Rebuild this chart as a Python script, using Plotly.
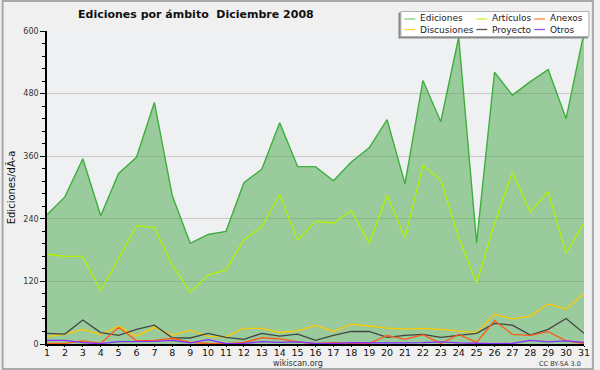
import plotly.graph_objects as go

dias = list(range(1, 32))

ediciones = [248, 282, 355, 246, 327, 358, 463, 284, 193, 210, 216, 309, 335, 424, 340,
             340, 313, 349, 376, 430, 307, 505, 426, 588, 194, 521, 477, 503, 526, 432, 597]
articulos = [172, 168, 168, 102, 164, 227, 223, 151, 99, 132, 142, 200, 225, 286, 199,
             235, 232, 256, 193, 285, 204, 342, 315, 204, 117, 231, 329, 253, 292, 174, 232]
anexos = [1, 1, 6, 1, 32, 6, 7, 11, 3, 1, 0.6, 3, 12, 10, 4,
          0.6, 2.5, 1, 1, 16.6, 9, 18, 1, 18.5, 3, 44.7, 18.5, 16.6, 23.6, 6, 1]
discusiones = [14, 19, 28, 18, 34, 15, 32, 17, 26, 14.7, 14, 30, 30, 22, 25,
               35.7, 24, 38, 34.5, 30.6, 28.7, 30, 28, 25, 21.7, 57, 48, 53.6, 76.6, 67, 97]
proyecto = [20.4, 19, 46, 22, 16.6, 28, 36, 12, 11.5, 20.4, 12.8, 9, 20.4, 15, 19,
            7, 16.6, 24, 24, 12.8, 16.6, 18.5, 12.8, 17, 20.4, 39.6, 36, 17, 28, 49, 20.4]
otros = [7, 7, 2.5, 0.6, 4.5, 4.5, 5, 7, 2, 8.3, 0.6, 1, 4.5, 3, 4,
         1, 1, 2.5, 2, 2.5, 2, 2.5, 4, 2, 0.6, 0.6, 1, 7, 4, 6, 3]

y_ticks = [0, 120, 240, 360, 480, 600]

W, H = 600, 370
ML, MR, MT, MB = 46, 10, 31, 26
PW, PH = W - ML - MR, H - MT - MB

def px(x):
    return (x - ML) / PW

def py(y):
    return (H - MB - y) / PH

fig = go.Figure()

fig.add_trace(go.Scatter(x=dias, y=ediciones, name="Ediciones", mode="lines",
                         line=dict(color="#3daf3d", width=1.4),
                         fill="tozeroy", fillcolor="rgba(70,165,70,0.5)"))

lines = [
    ("Artículos", articulos, "#b4f000"),
    ("Discusiones", discusiones, "#ffc800"),
    ("Proyecto", proyecto, "#444444"),
    ("Anexos", anexos, "#ff5a14"),
    ("Otros", otros, "#8a2cff"),
]
for name, vals, col in lines:
    fig.add_trace(go.Scatter(x=dias, y=vals, name=name, mode="lines",
                             line=dict(color=col, width=1.3)))

# manual legend (3 columns x 2 rows)
legend_cols = [
    [("Ediciones", "#80d080"), ("Discusiones", "#ffd040")],
    [("Artículos", "#c8f040"), ("Proyecto", "#555555")],
    [("Anexos", "#ff8040"), ("Otros", "#a050ff")],
]
col_x = [408, 481, 539.5]
row_y = [19, 29.5]

shapes = []
annotations = []

# outer border
shapes.append(dict(type="rect", xref="paper", yref="paper",
                   x0=px(1), x1=px(W - 1), y0=py(H - 1), y1=py(1),
                   line=dict(color="#a8a8a8", width=2), fillcolor="rgba(0,0,0,0)",
                   layer="above"))
# legend box with shadow
shapes.append(dict(type="rect", xref="paper", yref="paper",
                   x0=px(402), x1=px(594), y0=py(38.5), y1=py(12.5),
                   line=dict(width=0), fillcolor="#8a8a8a", layer="above"))
shapes.append(dict(type="rect", xref="paper", yref="paper",
                   x0=px(404.5), x1=px(595), y0=py(36.5), y1=py(11.5),
                   line=dict(color="#b0b0b0", width=1), fillcolor="#ffffff", layer="above"))

for c, col_items in enumerate(legend_cols):
    x0 = col_x[c]
    for r, (name, col) in enumerate(col_items):
        y = row_y[r]
        shapes.append(dict(type="line", xref="paper", yref="paper",
                           x0=px(x0), x1=px(x0 + 11), y0=py(y), y1=py(y),
                           line=dict(color=col, width=1.3), layer="above"))
    annotations.append(dict(text="<br>".join(n for n, _ in col_items),
                            xref="paper", yref="paper", align="left",
                            x=px(x0 + 15), y=py((row_y[0] + row_y[1]) / 2),
                            xanchor="left", yanchor="middle", showarrow=False, borderpad=0,
                            font=dict(family="DejaVu Sans", size=9, color="#222222")))

annotations.append(dict(text="Ediciones por ámbito\u00a0 Diciembre 2008", xref="paper", yref="paper",
                        x=px(197), y=py(14), xanchor="center", yanchor="middle", showarrow=False,
                        font=dict(family="DejaVu Sans", size=11, color="#111111", weight="bold")))
annotations.append(dict(text="wikiscan.org", xref="paper", yref="paper",
                        x=px(300), y=py(363.5), xanchor="center", yanchor="middle", showarrow=False,
                        font=dict(family="DejaVu Sans", size=8, color="#333333")))
annotations.append(dict(text="CC BY-SA 3.0", xref="paper", yref="paper",
                        x=px(589), y=py(363.5), xanchor="right", yanchor="middle", showarrow=False,
                        font=dict(family="DejaVu Sans", size=6.5, color="#333333")))

fig.update_layout(
    width=W, height=H,
    margin=dict(l=ML, r=MR, t=MT, b=MB, pad=0),
    paper_bgcolor="#f0f0f0",
    plot_bgcolor="#eff0f2",
    showlegend=False,
    shapes=shapes,
    annotations=annotations,
)

fig.update_xaxes(range=[1, 31], tickmode="array", tickvals=dias,
                 ticktext=[str(d) for d in dias],
                 showgrid=False, zeroline=False,
                 showline=True, linecolor="black", linewidth=1.5,
                 ticks="outside", ticklen=1, tickcolor="black", ticklabelstandoff=-2,
                 tickfont=dict(family="DejaVu Sans", size=9.5, color="#111111"))
fig.update_yaxes(range=[0, 600], tickmode="array", tickvals=y_ticks,
                 ticktext=[str(v) for v in y_ticks],
                 showgrid=True, gridcolor="#c9c9c9", gridwidth=1, zeroline=False,
                 showline=True, linecolor="black", linewidth=1.5,
                 ticks="outside", ticklen=5, tickcolor="black",
                 tickfont=dict(family="DejaVu Sans", size=8, color="#333333"),
                 minor=dict(dtick=24, tick0=0, ticks="outside", ticklen=3,
                            tickcolor="black", showgrid=False),
                 title=dict(text="Ediciones/dÃ-a", standoff=6,
                            font=dict(family="DejaVu Sans", size=10, color="#111111")))

fig.write_html("out.html", config={"displayModeBar": False},
               post_script="document.body.style.margin='0';document.body.style.overflow='hidden';")
